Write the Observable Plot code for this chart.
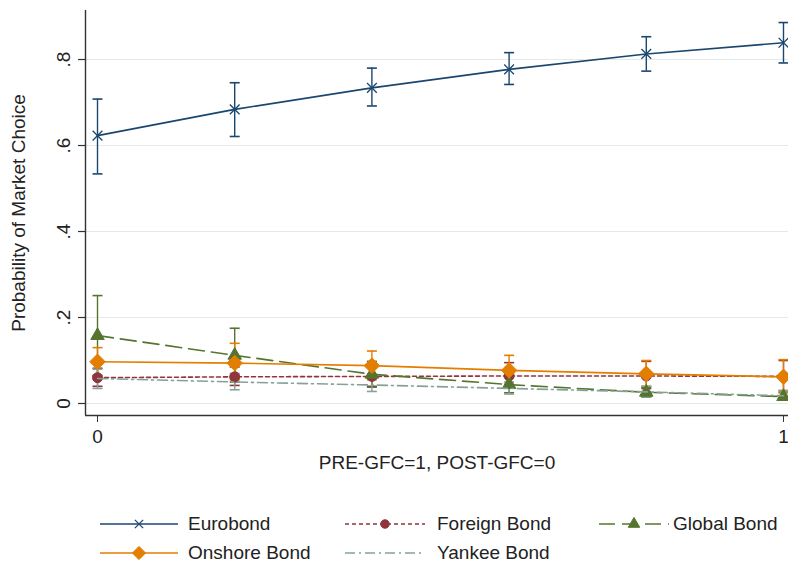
<!DOCTYPE html>
<html>
<head>
<meta charset="utf-8">
<script src="https://cdn.jsdelivr.net/npm/d3@7"></script>
<script src="https://cdn.jsdelivr.net/npm/@observablehq/plot@0.6"></script>
<style>
  body { margin: 0; background: #fff; font-family: "Liberation Sans", Arial, sans-serif; }
  #wrap { position: relative; width: 788px; }
  #legend { position: relative; width: 788px; height: 67px; }
  .item { position: absolute; display: flex; align-items: center; height: 24px; font-size: 19px; color: #222; }
  .item svg { display: block; }
</style>
</head>
<body>
<div id="wrap"></div>
<div id="legend"></div>
<script>
// ---- data ----
const xs = [0, 0.2, 0.4, 0.6, 0.8, 1];

const euroMean = [0.623, 0.684, 0.734, 0.777, 0.813, 0.839];
const euroLo   = [0.534, 0.621, 0.692, 0.742, 0.773, 0.792];
const euroHi   = [0.708, 0.746, 0.780, 0.816, 0.853, 0.886];

const foreignMean = [0.060, 0.062, 0.063, 0.064, 0.064, 0.063];
const foreignLo   = [0.040, 0.042, 0.040, 0.038, 0.035, 0.030];
const foreignHi   = [0.082, 0.085, 0.090, 0.095, 0.098, 0.100];

const globalMean = [0.158, 0.112, 0.068, 0.044, 0.026, 0.016];
const globalLo   = [0.065, 0.050, 0.038, 0.025, 0.015, 0.008];
const globalHi   = [0.251, 0.175, 0.098, 0.065, 0.038, 0.026];

const onshoreMean = [0.097, 0.094, 0.088, 0.077, 0.069, 0.062];
const onshoreLo   = [0.065, 0.055, 0.055, 0.045, 0.040, 0.025];
const onshoreHi   = [0.130, 0.140, 0.122, 0.112, 0.100, 0.102];

const yankeeMean = [0.058, 0.050, 0.043, 0.035, 0.027, 0.018];
const yankeeLo   = [0.035, 0.032, 0.028, 0.022, 0.015, 0.008];
const yankeeHi   = [0.080, 0.070, 0.060, 0.050, 0.040, 0.030];

const seriesNames = ["Eurobond", "Foreign Bond", "Global Bond", "Onshore Bond", "Yankee Bond"];
const yTicks = [0, 0.2, 0.4, 0.6, 0.8];
const yTickLabels = ["0", ".2", ".4", ".6", ".8"];
const xTicks = [0, 1];
const xTickLabels = ["0", "1"];
const xTitle = "PRE-GFC=1, POST-GFC=0";
const yTitle = "Probability of Market Choice";

// ---- styles ----
const styles = {
  "Eurobond":     {color: "#1a476f", dash: null,        symbol: "times",    r: 4.5, fill: "none"},
  "Foreign Bond": {color: "#90353b", dash: "4,3",       symbol: "circle",   r: 5,   fill: "#90353b"},
  "Global Bond":  {color: "#55752f", dash: "16,7",      symbol: "triangle", r: 5,   fill: "#55752f"},
  "Onshore Bond": {color: "#e37e00", dash: null,        symbol: "diamond2", r: 7,   fill: "#e37e00"},
  "Yankee Bond":  {color: "#86a198", dash: "10,4,2,4",  symbol: null,       r: 0,   fill: "none"}
};

const table = {
  "Eurobond":     [euroMean, euroLo, euroHi],
  "Foreign Bond": [foreignMean, foreignLo, foreignHi],
  "Global Bond":  [globalMean, globalLo, globalHi],
  "Onshore Bond": [onshoreMean, onshoreLo, onshoreHi],
  "Yankee Bond":  [yankeeMean, yankeeLo, yankeeHi]
};

const rows = seriesNames.flatMap(name => xs.map((x, i) => ({
  name, x, y: table[name][0][i], lo: table[name][1][i], hi: table[name][2][i]
})));

// custom horizontal cap symbol (half-width = r)
const capSymbol = {
  draw(ctx, size) {
    const w = Math.sqrt(size / Math.PI);
    ctx.moveTo(-w, 0); ctx.lineTo(w, 0);
  }
};

const xDomain = [-0.0175, 1.0073];
const yDomain = [-0.0279, 0.914];

const marks = [
  Plot.ruleY(yTicks, {stroke: "#e3eaec", strokeWidth: 1.2})
];
for (const name of seriesNames) {
  const s = styles[name];
  const d = rows.filter(r => r.name === name);
  marks.push(Plot.ruleX(d, {x: "x", y1: "lo", y2: "hi", stroke: s.color, strokeWidth: 1.4}));
  marks.push(Plot.dot(d, {x: "x", y: "lo", symbol: capSymbol, r: 5, stroke: s.color, strokeWidth: 1.6}));
  marks.push(Plot.dot(d, {x: "x", y: "hi", symbol: capSymbol, r: 5, stroke: s.color, strokeWidth: 1.6}));
}
for (const name of seriesNames) {
  const s = styles[name];
  const d = rows.filter(r => r.name === name);
  marks.push(Plot.line(d, {x: "x", y: "y", stroke: s.color, strokeWidth: 1.6, strokeDasharray: s.dash}));
  if (s.symbol) {
    marks.push(Plot.dot(d, {x: "x", y: "y", symbol: s.symbol, r: s.r,
      fill: s.fill, stroke: s.color, strokeWidth: s.symbol === "times" ? 1.3 : 1}));
  }
}
marks.push(
  Plot.ruleX([xDomain[0]], {stroke: "#333", strokeWidth: 1.4}),
  Plot.ruleY([yDomain[0]], {stroke: "#333", strokeWidth: 1.4}),
  Plot.axisY({ticks: yTicks, tickSize: 7, tickFormat: () => "", stroke: "#333", strokeWidth: 1.2}),
  Plot.text(yTicks, {y: d => d, text: (d, i) => yTickLabels[i], frameAnchor: "left", textAnchor: "middle",
    rotate: -90, dx: -22, fontSize: 19, fill: "#222"}),
  Plot.axisX({ticks: xTicks, tickSize: 7, tickPadding: 7, fontSize: 19, stroke: "#333", fill: "#222",
    tickFormat: d => xTickLabels[xTicks.indexOf(d)], label: null}),
  Plot.text([yTitle], {frameAnchor: "left", textAnchor: "middle", rotate: -90, dx: -67, fontSize: 19, fill: "#222"}),
  Plot.text([xTitle], {frameAnchor: "bottom", dy: 53, fontSize: 19, fill: "#222"})
);

const chart = Plot.plot({
  width: 788,
  height: 500,
  marginLeft: 85,
  marginRight: 0,
  marginTop: 10,
  marginBottom: 85,
  style: {fontFamily: "'Liberation Sans', Arial, sans-serif", background: "#fff"},
  x: {domain: xDomain, axis: null},
  y: {domain: yDomain, axis: null},
  marks
});
document.getElementById("wrap").appendChild(chart);

// ---- legend ----
const legendPos = {
  "Eurobond":     {x: 100, y: 12, sw: 78, tx: 188},
  "Foreign Bond": {x: 345, y: 12, sw: 80, tx: 437},
  "Global Bond":  {x: 599, y: 12, sw: 70, tx: 673},
  "Onshore Bond": {x: 100, y: 41, sw: 78, tx: 188},
  "Yankee Bond":  {x: 345, y: 41, sw: 80, tx: 437}
};
const legend = d3.select("#legend");
const symMap = {times: d3.symbolTimes, circle: d3.symbolCircle, triangle: d3.symbolTriangle, diamond2: d3.symbolDiamond2};
for (const name of seriesNames) {
  const s = styles[name], p = legendPos[name];
  const svg = legend.append("svg").attr("width", p.sw).attr("height", 24)
    .style("position", "absolute").style("left", p.x + "px").style("top", p.y + "px");
  svg.append("line").attr("x1", 0).attr("x2", p.sw).attr("y1", 12).attr("y2", 12)
    .attr("stroke", s.color).attr("stroke-width", 1.6).attr("stroke-dasharray", s.dash);
  if (s.symbol) {
    const rr = s.r * 0.85;
    svg.append("path").attr("transform", `translate(${p.sw / 2},12)`)
      .attr("d", d3.symbol(symMap[s.symbol], rr * rr * Math.PI)())
      .attr("fill", s.fill).attr("stroke", s.color).attr("stroke-width", s.symbol === "times" ? 1.3 : 1);
  }
  legend.append("div").attr("class", "item").style("left", p.tx + "px").style("top", p.y + "px").text(name);
}
</script>
</body>
</html>
